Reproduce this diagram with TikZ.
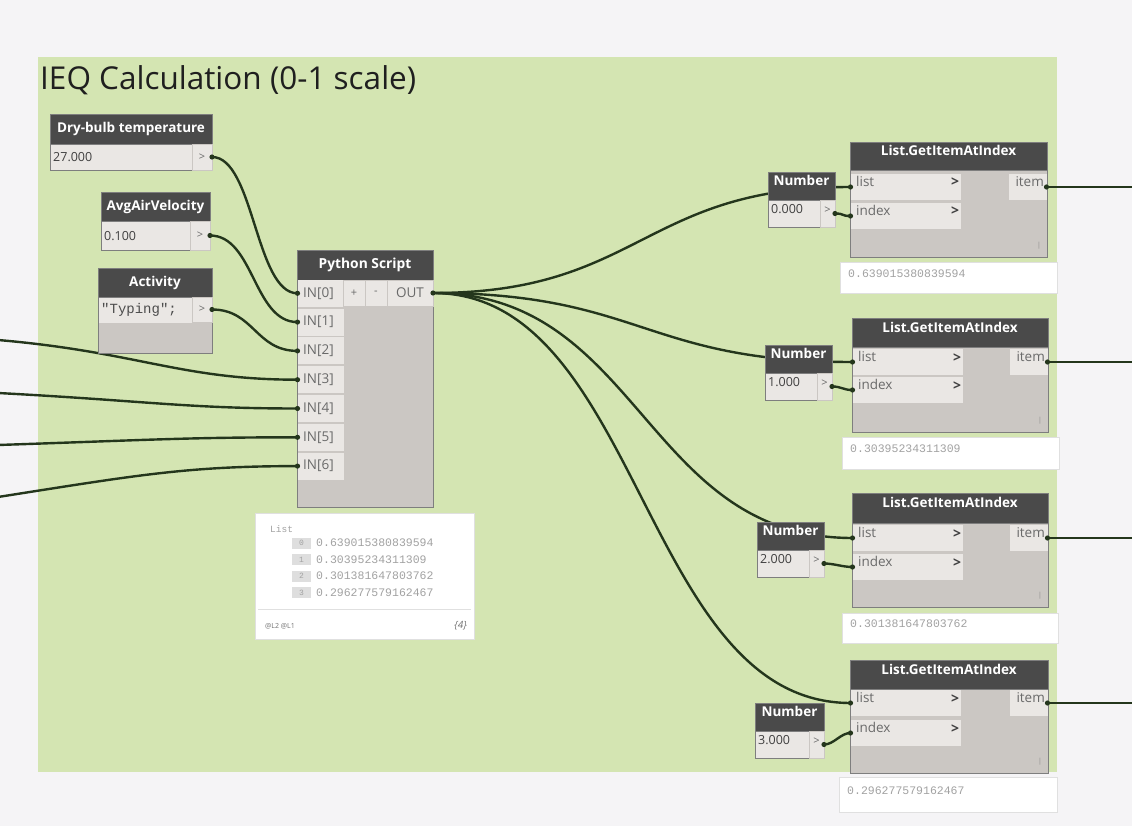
\documentclass[tikz,border=0pt]{standalone}
\usepackage{fontspec}
\setmainfont{Open Sans}
\setmonofont{Liberation Mono}

\definecolor{pagebg}{HTML}{F5F4F6}
\definecolor{groupbg}{HTML}{D4E5B2}
\definecolor{hdrc}{HTML}{4A4A4A}
\definecolor{bodyc}{HTML}{CBC7C3}
\definecolor{cellc}{HTML}{EAE7E4}
\definecolor{edgec}{HTML}{7E7E7E}
\definecolor{wirec}{HTML}{24361C}
\definecolor{labc}{HTML}{6A6A6A}
\definecolor{watchc}{HTML}{A2A2A2}

\pgfdeclarelayer{ground}
\pgfdeclarelayer{wires}
\pgfsetlayers{ground,wires,main}

\tikzset{
  blk/.style={rectangle, anchor=north west, inner sep=0pt, outer sep=0pt},
  hdr/.style={blk, fill=hdrc, draw=edgec, text=white, font=\bfseries\fontsize{13.5}{15}\selectfont},
  bodybox/.style={blk, fill=bodyc, draw=edgec},
  cell/.style={blk, fill=cellc},
  btn/.style={blk, fill=cellc, draw=bodyc, text=labc, font=\fontsize{11}{12}\selectfont},
  lab/.style={anchor=west, inner sep=0pt, text=labc, font=\fontsize{13.5}{15}\selectfont},
  val/.style={anchor=west, inner sep=0pt, text=black!75, font=\fontsize{12.5}{14}\selectfont},
  chev/.style={anchor=center, inner sep=0pt, text=black!75, font=\bfseries\fontsize{14}{15}\selectfont},
  watch/.style={blk, fill=white, draw=black!12},
  wtxt/.style={anchor=west, inner sep=0pt, text=watchc, font=\ttfamily\fontsize{11.5}{12}\selectfont},
  wire/.style={draw=wirec, line width=2.4pt},
}

\begin{document}
\begin{tikzpicture}[x=1pt, y=-1pt]
\useasboundingbox (0,0) rectangle (1132,826);
\clip (0,0) rectangle (1132,826);

\begin{pgfonlayer}{ground}
  \fill[pagebg] (0,0) rectangle (1132,826);
  \fill[groupbg] (38,57) rectangle (1057,772);
\end{pgfonlayer}

\node[anchor=west, inner sep=0pt, text=black!88, font=\fontsize{31.5}{36}\selectfont] (title) at (40,80) {IEQ Calculation (0-1 scale)};

% ---- input nodes ----
\node[hdr, minimum width=162pt, minimum height=30pt] (dbt) at (50,114) {Dry-bulb temperature};
\node[cell, draw=edgec, minimum width=162pt, minimum height=26pt] (dbtrow) at (50,144) {};
\node[btn, minimum width=20pt, minimum height=26pt] (dbtout) at (192,144) {>};
\node[val] (dbtval) at (53,157) {27.000};

\node[hdr, minimum width=109pt, minimum height=29pt] (aav) at (101,192) {AvgAirVelocity};
\node[cell, draw=edgec, minimum width=109pt, minimum height=29pt] (aavrow) at (101,221) {};
\node[btn, minimum width=20pt, minimum height=29pt] (aavout) at (190,221) {>};
\node[val] (aavval) at (104,236) {0.100};

\node[hdr, minimum width=114pt, minimum height=29pt] (act) at (98,268) {Activity};
\node[bodybox, minimum width=114pt, minimum height=56pt] (actbody) at (98,297) {};
\node[cell, minimum width=94pt, minimum height=25pt] (actrow) at (98.5,297.5) {};
\node[btn, minimum width=20pt, minimum height=25pt] (actout) at (192,297) {>};
\node[anchor=west, inner sep=0pt, text=black!70, font=\ttfamily\fontsize{14}{15}\selectfont] (actval) at (101,310) {"Typing";};

% ---- Python Script ----
\node[hdr, minimum width=136pt, minimum height=30pt, font=\bfseries\fontsize{13.8}{15}\selectfont] (py) at (297,250) {Python Script};
\node[bodybox, minimum width=136pt, minimum height=227pt] (pybody) at (297,280) {};
\foreach \k in {0,...,6} {
  \node[cell, minimum width=46pt, minimum height=27pt] (pyin\k) at (297.5,{279.8+28.8*\k}) {};
  \node[lab] (pyinlab\k) at (303,{293.3+28.8*\k}) {IN[\k]};
}
\node[cell, draw=bodyc, minimum width=22pt, minimum height=26pt, text=labc, font=\fontsize{11}{12}\selectfont] (pyplus) at (343,280) {+};
\node[cell, draw=bodyc, minimum width=22pt, minimum height=26pt, text=labc, font=\fontsize{11}{12}\selectfont] (pyminus) at (365,280) {-};
\node[cell, draw=bodyc, minimum width=46pt, minimum height=26pt, text=labc, font=\fontsize{13.5}{15}\selectfont] (pyout) at (387,280) {OUT};

% watch of the script output
\node[watch, minimum width=219pt, minimum height=126pt] (pywatch) at (255,513) {};
\node[wtxt, font=\ttfamily\fontsize{9.5}{10}\selectfont] (pwlist) at (270,529) {List};
\foreach \r/\v in {0/0.639015380839594, 1/0.30395234311309, 2/0.301381647803762, 3/0.296277579162467} {
  \node[blk, fill=black!13, minimum width=19pt, minimum height=11pt, text=watchc, font=\ttfamily\fontsize{8}{8}\selectfont] (pwidx\r) at (292,{537.5+16.5*\r}) {\r};
  \node[wtxt] (pwval\r) at (316,{543+16.5*\r}) {\v};
}
\draw[black!12] (258,609) -- (471,609);
\node[anchor=west, inner sep=0pt, text=black!55, font=\fontsize{7}{8}\selectfont] (pwlev) at (265,626) {@L2 @L1};
\node[anchor=east, inner sep=0pt, text=black!55, font=\itshape\fontsize{10}{11}\selectfont] (pwcnt) at (467,626) {\{4\}};

% ---- Number + List.GetItemAtIndex pairs ----
\foreach \g/\xo/\w/\ht/\hb/\ly/\iy/\bb/\wx/\wr/\wt/\wb/\wv/\nx/\nr/\nt/\nv in {
  1/850/197/142/170/187/216/257/840/1057/262/293/0.639015380839594/768/835/172/0.000,
  2/852/196/318/347/362/390/432/842/1059/437/469/0.30395234311309/765/832/345/1.000,
  3/852/196/493/523/538/567/607/842/1058/613/643/0.301381647803762/757/824/522/2.000,
  4/850/198/660/689/703/733/773/839/1057/777/812/0.296277579162467/755/824/703/3.000} {
  \node[hdr, minimum width=\w pt, minimum height={(\hb-\ht)*1pt}] (g\g) at (\xo,\ht) {List.GetItemAtIndex};
  \node[bodybox, minimum width=\w pt, minimum height={(\bb-\hb)*1pt}] (gb\g) at (\xo,\hb) {};
  \node[cell, minimum width=110pt, minimum height=26pt] (gl\g) at (\xo+0.5,\ly-13) {};
  \node[cell, minimum width=110pt, minimum height=26pt] (gi\g) at (\xo+0.5,\iy-13) {};
  \node[cell, minimum width=38pt, minimum height=26pt] (gt\g) at (\xo+\w-38.5,\ly-13) {};
  \node[lab] (gll\g) at (\xo+6,\ly) {list};
  \node[lab] (gil\g) at (\xo+6,\iy) {index};
  \node[chev] (glc\g) at (\xo+105,\ly) {>};
  \node[chev] (gic\g) at (\xo+105,\iy) {>};
  \node[lab, anchor=east] (gtl\g) at (\xo+\w-3,\ly) {item};
  \node[inner sep=0pt, text=black!45, font=\fontsize{7}{8}\selectfont] (glace\g) at (\xo+\w-8,\bb-9) {|};
  \node[watch, minimum width={(\wr-\wx)*1pt}, minimum height={(\wb-\wt)*1pt}] (gw\g) at (\wx,\wt) {};
  \node[wtxt] (gwv\g) at (\wx+8,{(\wt+\wb)/2}) {\wv};
  % number input
  \node[hdr, minimum width={(\nr-\nx)*1pt}, minimum height=28pt] (n\g) at (\nx,\nt) {Number};
  \node[cell, draw=edgec, minimum width={(\nr-\nx)*1pt}, minimum height=27pt] (nr\g) at (\nx,\nt+28) {};
  \node[btn, minimum width=15pt, minimum height=27pt] (nb\g) at (\nr-15,\nt+28) {>};
  \node[val] (nv\g) at (\nx+3,\nt+41.5) {\nv};
  \coordinate (out\g) at (1134,\ly);
}

% loose ends entering from the left
\coordinate (src3) at (-2,340);
\coordinate (src4) at (-2,393);
\coordinate (src5) at (-2,445);
\coordinate (src6) at (-2,497);

% ---- wires ----
\begin{pgfonlayer}{wires}
  \draw[wire] (dbtout.east) .. controls +(42,0) and +(-42,0) .. (pyin0.west);
  \draw[wire] (aavout.east) .. controls +(44,0) and +(-44,0) .. (pyin1.west);
  \draw[wire] (actout.east) .. controls +(42,0) and +(-42,0) .. (pyin2.west);
  \draw[wire] (src3) .. controls +(140,12) and +(-117,0) .. (pyin3.west);
  \draw[wire] (src4) .. controls +(150,8) and +(-110,0) .. (pyin4.west);
  \draw[wire] (src5) .. controls +(150,-5) and +(-110,0) .. (pyin5.west);
  \draw[wire] (src6) .. controls +(140,-22) and +(-110,0) .. (pyin6.west);
  \foreach \g in {1,...,4} {
    \draw[wire] (pyout.east) .. controls +(208,0) and +(-208,0) .. (gl\g.west);
    \draw[wire] (nb\g.east) .. controls +(10,0) and +(-10,0) .. (gi\g.west);
    \draw[wire] (gt\g.east) -- (out\g);
  }
\end{pgfonlayer}

% port markers
\foreach \p in {dbtout.east, aavout.east, actout.east, pyout.east,
                nb1.east, nb2.east, nb3.east, nb4.east,
                gt1.east, gt2.east, gt3.east, gt4.east} {
  \fill[wirec] (\p) circle (2.6pt);
}
\foreach \p in {pyin0.west, pyin1.west, pyin2.west, pyin3.west, pyin4.west, pyin5.west, pyin6.west,
                gl1.west, gl2.west, gl3.west, gl4.west, gi1.west, gi2.west, gi3.west, gi4.west} {
  \fill[wirec] (\p) circle (2.6pt);
}
\end{tikzpicture}
\end{document}
